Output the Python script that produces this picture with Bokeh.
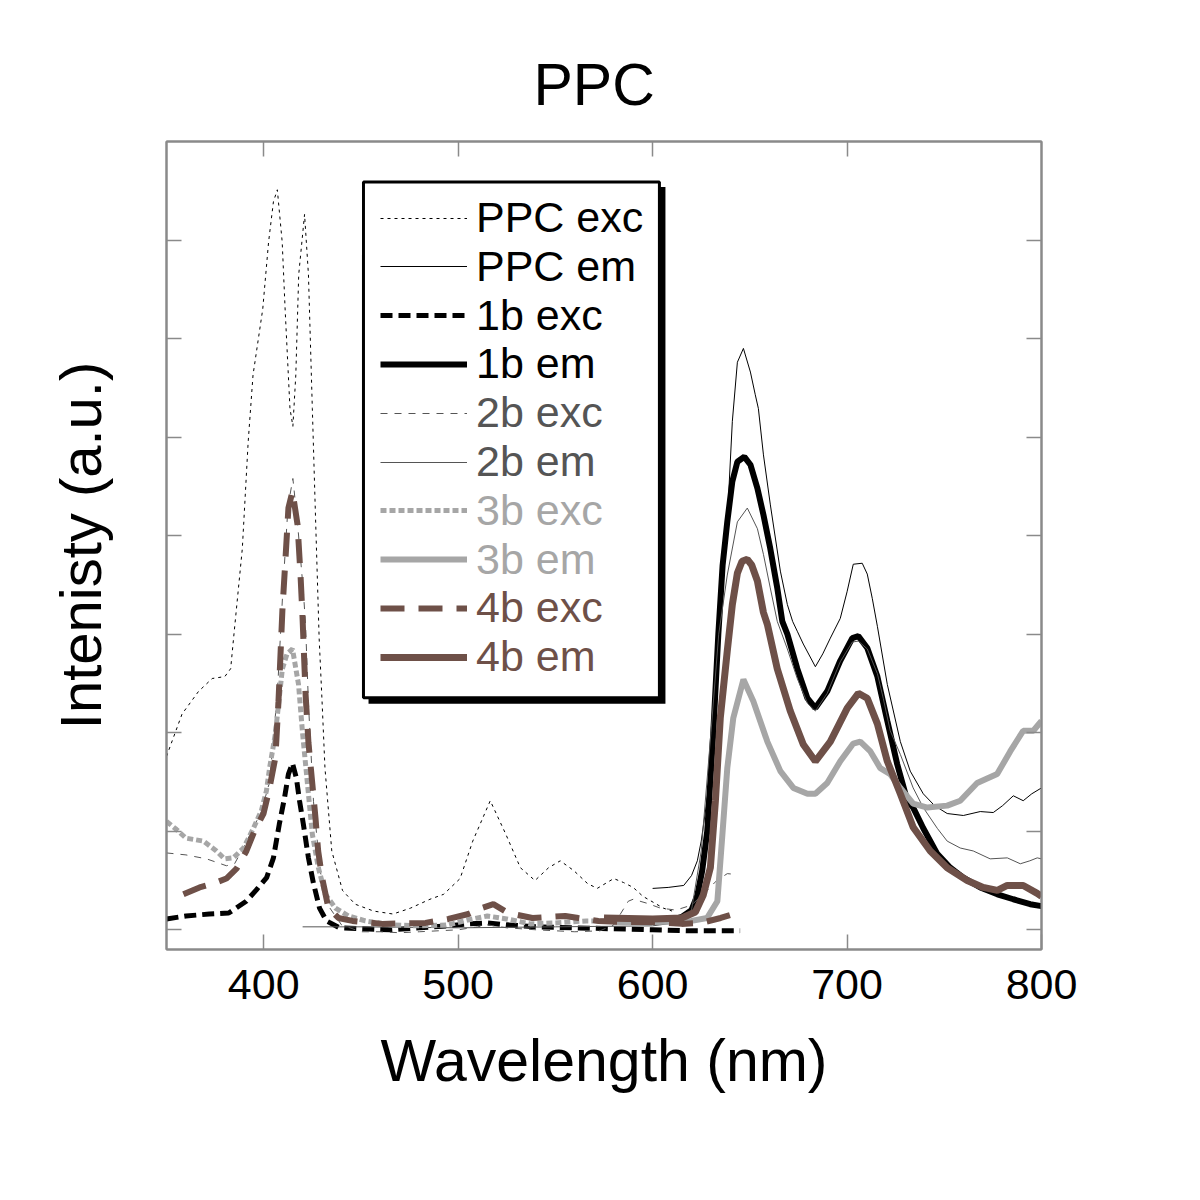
from bokeh.plotting import figure
from bokeh.models import (Range1d, LinearAxis, Legend, LegendItem, BoxAnnotation,
                          FixedTicker, CustomJSTickFormatter)
from bokeh.embed import file_html
from bokeh.resources import INLINE

# ---------------- data ----------------
ppc_exc_wl = [350, 358, 366.5, 373.5, 380, 383, 384.5, 389, 392, 394.5, 399.5, 402.5, 405, 407,
              409.5, 411, 413.5, 415, 416.5, 418, 421, 423, 425, 426.5, 428.5, 430, 431.5, 435,
              440.5, 447, 456.5, 466.5, 475.5, 485.5, 492.5, 501, 507.5, 516.5, 524.5, 532, 539.5,
              546.5, 552.5, 559.5, 566.5, 571.5, 580, 585, 590, 595, 605.5, 610]
ppc_exc_i = [1.76, 2.19, 2.42, 2.55, 2.57, 2.65, 2.96, 3.87, 4.95, 5.63, 6.30, 6.98, 7.39, 7.51,
             6.98, 6.30, 5.29, 5.11, 5.63, 6.65, 7.26, 6.65, 5.29, 4.28, 2.96, 2.32, 1.64, 0.80,
             0.40, 0.26, 0.19, 0.16, 0.22, 0.31, 0.36, 0.52, 0.90, 1.31, 0.97, 0.63, 0.50,
             0.63, 0.70, 0.60, 0.47, 0.42, 0.52, 0.48, 0.43, 0.34, 0.22, 0.19]

ppc_em_wl = [600, 608, 616, 620, 623, 625, 627.5, 630, 632.3, 634.5, 638.4, 641, 643.6, 646.7,
             650.3, 652.8, 654.4, 657, 660.5, 665.7, 669.3, 672, 674.4, 677.5, 683.7, 687.5, 691.4,
             696.5, 700, 703.2, 707.8, 710.4, 713, 715.6, 720.7, 727.4, 732.5, 739.2, 745, 751.5,
             759.8, 768.5, 775.2, 780, 785.5, 790.6, 795, 800]
ppc_em_i = [0.42, 0.43, 0.45, 0.55, 0.70, 0.90, 1.25, 1.64, 2.32, 3.00, 4.14, 5.16, 5.76, 5.90,
            5.66, 5.43, 5.29, 4.82, 4.32, 3.64, 3.30, 3.13, 3.03, 2.90, 2.67, 2.80, 2.96,
            3.16, 3.43, 3.71, 3.72, 3.61, 3.36, 3.08, 2.49, 1.91, 1.61, 1.38, 1.26, 1.18,
            1.16, 1.20, 1.19, 1.26, 1.36, 1.31, 1.38, 1.44]

b1_exc_wl = [350, 360, 372, 382, 391, 396, 401.5, 405, 408, 410.7, 412.7, 414.8, 416.8, 418.4,
             420.4, 423, 425.6, 428.7, 432.3, 439, 450, 465, 480, 495, 505, 515, 525, 540, 560,
             580, 600, 620, 645]
b1_exc_i = [0.11, 0.14, 0.16, 0.17, 0.29, 0.40, 0.53, 0.73, 1.07, 1.34, 1.58, 1.69, 1.54, 1.31,
            1.07, 0.73, 0.47, 0.22, 0.09, 0.02, 0.01, 0.00, 0.02, 0.04, 0.06, 0.07, 0.05, 0.03,
            0.02, 0.01, 0.00, -0.01, -0.01]

b1_em_wl = [580, 600, 610, 615, 620, 623, 625.5, 628.1, 631.2, 633.8, 636, 638.4, 641, 643.6,
            647.2, 650.3, 653.9, 657, 660.5, 664.1, 666.7, 669.3, 674.4, 679.6, 683.7, 689.8,
            696.5, 702.7, 705.8, 710.4, 715.6, 720.7, 725.8, 731, 734, 739.2, 746.4, 753.1,
            759.8, 768.5, 777.3, 785.5, 794.2, 800]
b1_em_i = [0.08, 0.08, 0.10, 0.13, 0.20, 0.35, 0.60, 1.00, 2.00, 3.00, 3.70, 4.14, 4.55, 4.75,
           4.80, 4.72, 4.48, 4.21, 3.87, 3.47, 3.13, 3.00, 2.65, 2.35, 2.25, 2.42,
           2.73, 2.96, 2.98, 2.86, 2.57, 2.12, 1.68, 1.31, 1.24, 1.03, 0.77, 0.63,
           0.53, 0.43, 0.36, 0.31, 0.26, 0.24]

b2_exc_wl = [350, 360, 370.6, 380.8, 385, 390, 395, 398.8, 403, 407, 410, 412.5, 415, 417.5,
             420.4, 421.5, 423, 425.6, 429, 433, 440, 450, 460, 470, 480, 490, 500, 510, 515,
             525, 540, 560, 573, 580, 587.5, 590, 597, 604, 612, 620, 628, 633, 638.4, 643.6]
b2_exc_i = [0.78, 0.76, 0.72, 0.65, 0.67, 0.85, 1.05, 1.20, 1.50, 2.40, 3.50, 4.30, 4.58, 4.10,
            3.43, 3.10, 2.30, 1.30, 0.60, 0.25, 0.05, -0.02, -0.02, -0.03, -0.02, -0.01, 0.00,
            0.03, 0.05, 0.02, 0.00, -0.02, -0.01, 0.05, 0.29, 0.31, 0.27, 0.22, 0.20, 0.25,
            0.40, 0.50, 0.57, 0.56]

b2_em_wl = [420, 450, 500, 550, 600, 615, 620, 625, 630, 634, 638.4, 643.6, 648.7, 653.9, 657,
            660.5, 664.1, 669.3, 674.4, 679.6, 683.7, 689.8, 696.5, 702.7, 705.8, 710.4, 715.6,
            718.6, 722.2, 727.4, 734, 739.2, 746.4, 751.5, 758.2, 764.9, 773.6, 782.4, 789.1,
            794, 797.8, 800]
b2_em_i = [0.03, 0.03, 0.02, 0.03, 0.04, 0.08, 0.20, 0.80, 2.00, 3.00, 3.60, 4.14, 4.28, 4.07,
           3.81, 3.47, 3.13, 2.85, 2.55, 2.30, 2.22, 2.40, 2.72, 2.92, 2.93, 2.85, 2.60,
           2.35, 2.02, 1.78, 1.44, 1.24, 1.03, 0.90, 0.83, 0.80, 0.72, 0.73, 0.67,
           0.70, 0.73, 0.72]

b3_exc_wl = [350, 355, 360, 369, 375.7, 379.8, 384.4, 389.6, 394.7, 398.8, 401.4, 403, 406, 409.6,
             412, 414.8, 417.9, 420, 422.5, 425, 428.1, 431.7, 436.9, 443.6, 452.3, 465, 480, 495,
             505, 515, 525, 537, 550, 566, 580, 600]
b3_exc_i = [1.10, 1.02, 0.93, 0.90, 0.80, 0.72, 0.73, 0.83, 1.03, 1.21, 1.41, 1.64, 1.99, 2.65,
            2.80, 2.85, 2.49, 1.99, 1.48, 0.97, 0.63, 0.36, 0.22, 0.14, 0.09, 0.05, 0.04, 0.05,
            0.10, 0.14, 0.11, 0.06, 0.07, 0.09, 0.09, 0.08]

b3_em_wl = [580, 600, 620, 628, 633.3, 635.9, 638.4, 641.5, 646.7, 651.8, 659, 665.7, 672.4,
            679.6, 683.7, 689.8, 696.5, 703.2, 706.8, 712, 717.1, 722.2, 727.4, 734, 741.3,
            751.5, 758.2, 766.9, 777.2, 783.9, 790.6, 795.8, 800]
b3_em_i = [0.08, 0.08, 0.09, 0.12, 0.29, 0.97, 1.64, 2.15, 2.54, 2.32, 1.91, 1.61, 1.44,
           1.38, 1.38, 1.49, 1.71, 1.89, 1.91, 1.81, 1.64, 1.58, 1.44, 1.28, 1.24,
           1.26, 1.31, 1.49, 1.58, 1.81, 2.02, 2.02, 2.12]

b4_exc_wl = [358.7, 367, 374.2, 380.8, 386, 391.1, 395.2, 399.9, 403, 406, 407.6, 409.6, 411.2,
             412.7, 414.8, 417.4, 418.9, 419.9, 421.5, 423, 425, 426.6, 428, 430, 433.3, 438.4,
             445.6, 461, 483.2, 495, 505.3, 512, 518.1, 525.8, 538.2, 555.1, 561.8, 572.1, 585,
             600, 615, 625, 635, 643]
b4_exc_i = [0.36, 0.43, 0.47, 0.52, 0.62, 0.80, 1.00, 1.18, 1.44, 1.75, 2.32, 3.24, 3.77,
            4.28, 4.45, 4.11, 3.61, 3.20, 2.40, 1.90, 1.48, 1.14, 0.80, 0.53, 0.22, 0.12,
            0.09, 0.06, 0.07, 0.11, 0.16, 0.22, 0.26, 0.17, 0.12, 0.14, 0.12, 0.09, 0.08,
            0.08, 0.06, 0.07, 0.12, 0.17]

b4_em_wl = [575, 600, 615, 622, 626, 629.7, 632.3, 634.8, 638.4, 641, 643.6, 646, 648.7, 651,
            653.9, 657, 659, 664.1, 670.8, 677.5, 683.7, 691.4, 700.1, 705.8, 710.4, 715.6,
            720.7, 727.4, 734, 742.8, 751.5, 761.8, 770, 777.3, 782.4, 790.6, 797.8, 800]
b4_em_i = [0.12, 0.11, 0.12, 0.18, 0.35, 0.63, 1.31, 2.15, 2.83, 3.30, 3.62, 3.74, 3.76, 3.70,
           3.54, 3.22, 3.10, 2.65, 2.22, 1.88, 1.71, 1.91, 2.25, 2.40, 2.35, 2.09,
           1.71, 1.38, 1.04, 0.80, 0.63, 0.50, 0.43, 0.40, 0.45, 0.45, 0.37, 0.34]

x_ticks = [400, 500, 600, 700, 800]
y_ticks = [0, 1, 2, 3, 4, 5, 6, 7]

FONT = "Liberation Sans"
GRAY = "#8a8a8a"
BROWN = "#6e5048"
DGRAY = "#555555"
LGRAY = "#a6a6a6"

p = figure(width=1184, height=1184, x_range=Range1d(350, 800), y_range=Range1d(-0.2, 8.0),
           output_backend="svg", toolbar_location=None,
           min_border_left=166, min_border_right=143, min_border_top=141, min_border_bottom=235)
p.grid.visible = False
p.outline_line_color = GRAY
p.outline_line_width = 2

p.title.text = "PPC"
p.title.align = "left"
p.title.text_font = FONT
p.title.text_font_size = "59px"
p.title.text_font_style = "normal"
p.title.text_color = "black"
p.title.offset = 367
p.title.standoff = 48

blank = CustomJSTickFormatter(code="return ''")

def style_axis(ax, ticks, labels=True):
    ax.ticker = FixedTicker(ticks=ticks)
    ax.axis_line_color = GRAY
    ax.axis_line_width = 2
    ax.major_tick_line_color = GRAY
    ax.major_tick_line_width = 1.5
    ax.major_tick_in = 15
    ax.major_tick_out = 0
    ax.minor_tick_in = 0
    ax.minor_tick_out = 0
    ax.major_label_text_font = FONT
    ax.axis_label_text_font = FONT
    ax.axis_label_text_font_style = "normal"
    ax.axis_label_text_color = "black"
    ax.major_label_text_color = "black"
    if not labels:
        ax.formatter = blank
        ax.major_label_standoff = 0

xa = p.xaxis[0]
style_axis(xa, x_ticks)
xa.major_label_text_font_size = "43px"
xa.major_label_standoff = 20
xa.axis_label = "Wavelength (nm)"
xa.axis_label_text_font_size = "59px"
xa.axis_label_standoff = 26

ya = p.yaxis[0]
style_axis(ya, y_ticks, labels=False)
ya.axis_label = "Intenisty (a.u.)"
ya.axis_label_text_font_size = "58px"
ya.axis_label_standoff = 54

top = LinearAxis()
style_axis(top, x_ticks[:-1], labels=False)
p.add_layout(top, "above")
right = LinearAxis()
style_axis(right, y_ticks, labels=False)
p.add_layout(right, "right")

r_ppc_exc = p.line(ppc_exc_wl, ppc_exc_i, line_color="black", line_width=1, line_dash="3 4")
r_ppc_em = p.line(ppc_em_wl, ppc_em_i, line_color="black", line_width=1)
r_b1_exc = p.line(b1_exc_wl, b1_exc_i, line_color="black", line_width=5, line_dash="12 6")
r_b1_em = p.line(b1_em_wl, b1_em_i, line_color="black", line_width=6)
r_b2_exc = p.line(b2_exc_wl, b2_exc_i, line_color=DGRAY, line_width=1, line_dash="7 7")
r_b2_em = p.line(b2_em_wl, b2_em_i, line_color=DGRAY, line_width=1)
r_b3_exc = p.line(b3_exc_wl, b3_exc_i, line_color=LGRAY, line_width=5, line_dash="6 3")
r_b3_em = p.line(b3_em_wl, b3_em_i, line_color=LGRAY, line_width=6)
r_b4_exc = p.line(b4_exc_wl, b4_exc_i, line_color=BROWN, line_width=6, line_dash="24 14")
r_b4_em = p.line(b4_em_wl, b4_em_i, line_color=BROWN, line_width=7)

# legend box with shadow
shadow = BoxAnnotation(left=453.9, right=606.6, top=7.538, bottom=2.293,
                       fill_color="black", fill_alpha=1, line_alpha=0, level="annotation")
box = BoxAnnotation(left=451.3, right=603.5, top=7.589, bottom=2.354,
                    fill_color="white", fill_alpha=1, line_color="black", line_alpha=1,
                    line_width=3, level="annotation")
p.add_layout(shadow)
p.add_layout(box)

entries = [(r_ppc_exc, "PPC exc", "black"), (r_ppc_em, "PPC em", "black"),
           (r_b1_exc, "1b exc", "black"), (r_b1_em, "1b em", "black"),
           (r_b2_exc, "2b exc", DGRAY), (r_b2_em, "2b em", DGRAY),
           (r_b3_exc, "3b exc", LGRAY), (r_b3_em, "3b em", LGRAY),
           (r_b4_exc, "4b exc", BROWN), (r_b4_em, "4b em", BROWN)]
for k, (r, lab, col) in enumerate(entries):
    cy = 218 + 48.8 * k          # row centre in page pixels
    yb = 949 - (cy + 24)         # legend bottom, measured from frame bottom
    leg = Legend(items=[LegendItem(label=lab, renderers=[r])], location=(214, yb),
                 glyph_width=87, glyph_height=48, label_height=48, label_standoff=9,
                 padding=0, spacing=0, margin=0,
                 label_text_font=FONT, label_text_font_size="43px", label_text_color=col,
                 border_line_alpha=0, background_fill_alpha=0)
    p.add_layout(leg)

open("out.html", "w").write(file_html(p, INLINE))
